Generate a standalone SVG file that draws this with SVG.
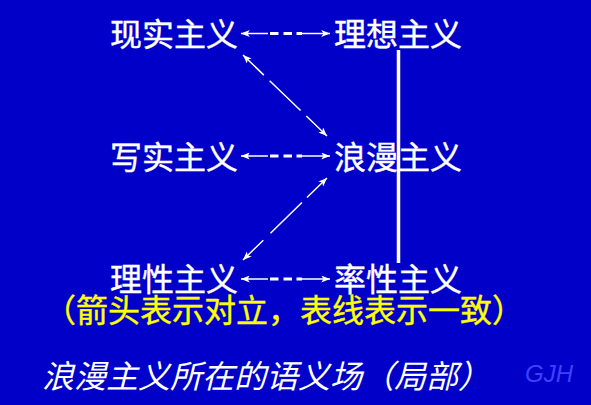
<svg xmlns="http://www.w3.org/2000/svg" width="591" height="405" viewBox="0 0 591 405">
  <style>
    .n { font-family: "Noto Sans CJK SC", "Noto Sans CJK JP", sans-serif; font-size: 32px; fill: #FFFFFF; stroke: #FFFFFF; stroke-width: 0.4; }
    .note { font-family: "Noto Sans CJK SC", "Noto Sans CJK JP", sans-serif; font-size: 32px; fill: #FFFF00; stroke: #FFFF00; stroke-width: 0.4; }
    .title { font-family: "Noto Sans CJK SC", "Noto Sans CJK JP", sans-serif; font-size: 32px; fill: #FFFFFF; font-style: italic; }
    .sig { font-family: "Liberation Sans", Arial, sans-serif; font-size: 24px; fill: #4040FF; font-style: italic; }
    .thin { stroke: #FFFFFF; stroke-width: 1.3; fill: none; }
    .dash { stroke: #FFFFFF; stroke-width: 2.8; fill: none; }
    .diag { stroke: #FFFFFF; stroke-width: 1.5; fill: none; }
    .solid { stroke: #FFFFFF; stroke-width: 3.5; fill: none; }
  </style>
  <defs>
    <marker id="ah" viewBox="0 0 10 8" refX="10" refY="4" markerWidth="9" markerHeight="7" markerUnits="userSpaceOnUse" orient="auto-start-reverse">
      <path d="M0,0 L10,4 L0,8 L2.5,4 z" fill="#FFFFFF"/>
    </marker>
  </defs>
  <rect x="0" y="0" width="591" height="405" fill="#0000C8"/>

  <g id="connectors">
    <!-- horizontal opposition arrows -->
    <path class="thin" d="M241,33.5 H268 M302,33.5 H330" marker-start="url(#ah)" marker-end="url(#ah)"/>
    <path class="dash" d="M270,33.5 H278.5 M283.5,33.5 H292 M296.5,33.5 H302"/>
    <path class="thin" d="M241,156 H268 M302,156 H330" marker-start="url(#ah)" marker-end="url(#ah)"/>
    <path class="dash" d="M270,156 H278.5 M283.5,156 H292 M296.5,156 H302"/>
    <path class="thin" d="M241,279 H268 M302,279 H330" marker-start="url(#ah)" marker-end="url(#ah)"/>
    <path class="dash" d="M270,279 H278.5 M283.5,279 H292 M296.5,279 H302"/>
    <!-- diagonal opposition arrows -->
    <line class="diag" x1="243" y1="55" x2="327" y2="136" stroke-dasharray="29 8 43 8 40" marker-start="url(#ah)" marker-end="url(#ah)"/>
    <line class="diag" x1="327" y1="178" x2="243" y2="260" stroke-dasharray="28 7 44 10 40" marker-start="url(#ah)" marker-end="url(#ah)"/>
    <!-- consistency line -->
    <line class="solid" x1="398.5" y1="50" x2="398.5" y2="263"/>
  </g>

  <g id="node-xianshi"><text class="n" x="110" y="45.5">现实主义</text></g>
  <g id="node-lixiang"><text class="n" x="334" y="45.5">理想主义</text></g>
  <g id="node-xieshi"><text class="n" x="110" y="168.5">写实主义</text></g>
  <g id="node-langman"><text class="n" x="334" y="168.5">浪漫主义</text></g>
  <g id="node-lixing"><text class="n" x="110" y="291">理性主义</text></g>
  <g id="node-shuaixing"><text class="n" x="334" y="291">率性主义</text></g>

  <g id="legend"><text class="note" x="44" y="322">（箭头表示对立，表线表示一致）</text></g>
  <g id="title"><text class="title" x="42" y="388">浪漫主义所在的语义场（局部）</text></g>
  <g id="signature"><text class="sig" x="525" y="382">GJH</text></g>
</svg>
